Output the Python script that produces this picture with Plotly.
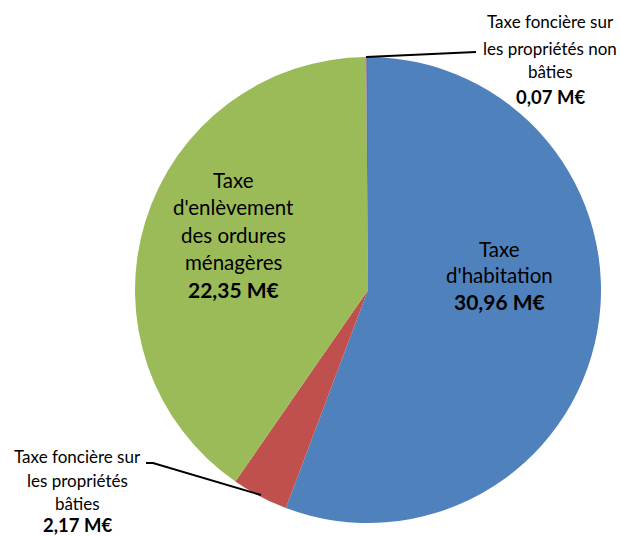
import plotly.graph_objects as go

# Data
label_lines = [
    ["Taxe", "d'habitation"],
    ["Taxe foncière sur", "les propriétés", "bâties"],
    ["Taxe", "d'enlèvement", "des ordures", "ménagères"],
    ["Taxe foncière sur", "les propriétés non", "bâties"],
]
labels = [" ".join(l) for l in label_lines]
values = [30.96, 2.17, 22.35, 0.07]
colors = ["#4F81BD", "#C0504D", "#9BBB59", "#8064A2"]

W, H = 620, 536

def px(x):
    return x / W

def py(y):
    return 1 - y / H

fig = go.Figure()
fig.add_trace(go.Pie(
    labels=labels,
    values=values,
    sort=False,
    direction="clockwise",
    rotation=0,
    textinfo="none",
    hoverinfo="label+value",
    marker=dict(colors=colors, line=dict(width=0)),
    domain=dict(x=[px(135), px(601)], y=[py(523), py(57)]),
    showlegend=False,
))

FONT = "Lato"
# label layouts: (center x, list of line y, text size, value size)
layouts = [
    (500, [249, 275, 301], 20.5, 21),
    (77, [456, 480, 503, 525], 17, 18.5),
    (233, [180, 207, 235, 262, 289], 20.5, 21),
    (550, [22, 48, 72, 97], 17, 18.5),
]

annotations = []
for lines, val, (cx, ys, fs, vs) in zip(label_lines, values, layouts):
    texts = [(t, fs) for t in lines] + [("<b>" + f"{val:.2f}".replace(".", ",") + " M€</b>", vs)]
    for (t, s), yy in zip(texts, ys):
        annotations.append(dict(
            x=px(cx), y=py(yy), xref="paper", yref="paper",
            text=t, showarrow=False, xanchor="center", yanchor="middle",
            font=dict(family=FONT, size=s, color="#000000"),
        ))

shapes = [
    dict(type="path", xref="paper", yref="paper",
         path=f"M {px(366)} {py(57)} L {px(476)} {py(52)}",
         line=dict(color="#000000", width=2)),
    dict(type="path", xref="paper", yref="paper",
         path=f"M {px(146)} {py(463)} L {px(153)} {py(463)} L {px(261)} {py(495)}",
         line=dict(color="#000000", width=2)),
]

fig.update_layout(
    width=W, height=H,
    margin=dict(l=0, r=0, t=0, b=0),
    paper_bgcolor="white",
    plot_bgcolor="white",
    annotations=annotations,
    shapes=shapes,
)

fig.write_html(
    "out.html",
    config={"displayModeBar": False},
    post_script="document.body.style.margin='0';document.body.style.overflow='hidden';",
)
